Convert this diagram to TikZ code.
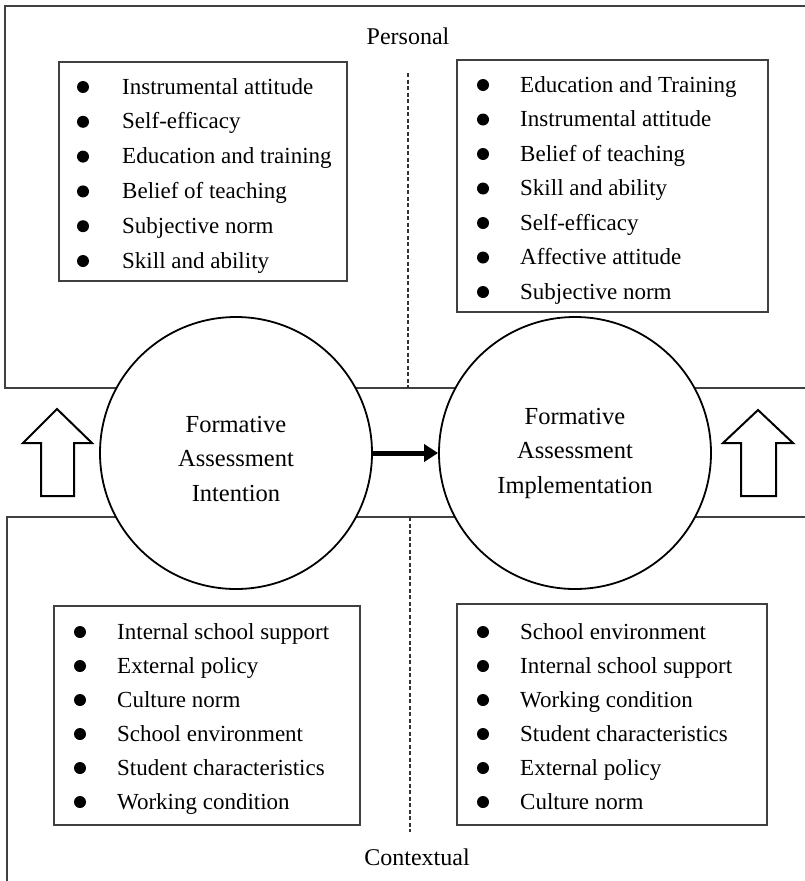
\documentclass[tikz,border=0pt]{standalone}
\usepackage{fontspec}
\setmainfont{Liberation Serif}
\usetikzlibrary{arrows.meta}
\begin{document}
\begin{tikzpicture}[x=1pt,y=-1pt,
  frame/.style={draw=black!75,line width=1.1pt},
  listbox/.style={draw=black!75,line width=1.4pt},
  bul/.style={circle,fill=black,inner sep=0pt,minimum size=12pt},
  item/.style={anchor=west,inner sep=0pt,text height=17pt,text depth=3pt,font=\fontsize{23}{27}\selectfont},
  bigcirc/.style={circle,draw=black,line width=1.8pt,fill=white,minimum size=272pt,inner sep=0pt},
  circtext/.style={align=center,font=\fontsize{24.5}{34.5}\selectfont},
  upar/.style={draw=black,line width=2pt,fill=white,line join=miter},
  sep/.style={draw=black!80,line width=1.3pt,dash pattern=on 4pt off 2.5pt},
  label/.style={font=\fontsize{24}{28}\selectfont}]
\useasboundingbox (0,0) rectangle (805,881);
\fill[white] (0,0) rectangle (805,881);
% frames
\draw[frame] (815,6) -- (5,6) -- (5,388) -- (815,388);
\draw[frame] (815,517) -- (7,517) -- (7,890);
% dashed separators
\coordinate (d1a) at (408,73); \coordinate (d1b) at (408,388);
\coordinate (d2a) at (410,517); \coordinate (d2b) at (410,832);
\draw[sep] (d1a) -- (d1b);
\draw[sep] (d2a) -- (d2b);
% labels
\node[label] (personal) at (408,36) {Personal};
\node[label] (contextual) at (417,857) {Contextual};
% boxes
\draw[listbox] (59,62) rectangle (347,281);
\draw[listbox] (457,60) rectangle (768,312);
\draw[listbox] (54,606) rectangle (360,825);
\draw[listbox] (457,604) rectangle (767,825);
% TL list
\foreach \t [count=\i from 0] in {Instrumental attitude,Self-efficacy,Education and training,Belief of teaching,Subjective norm,Skill and ability}{
  \node[bul] (tlb\i) at (83,87+34.8*\i) {};
  \node[item] (tlt\i) at (122,87+34.8*\i) {\t};
}
% TR list
\foreach \t [count=\i from 0] in {Education and Training,Instrumental attitude,Belief of teaching,Skill and ability,Self-efficacy,Affective attitude,Subjective norm}{
  \node[bul] (trb\i) at (483,85+34.5*\i) {};
  \node[item] (trt\i) at (520,85+34.5*\i) {\t};
}
% BL list
\foreach \t [count=\i from 0] in {Internal school support,External policy,Culture norm,School environment,Student characteristics,Working condition}{
  \node[bul] (blb\i) at (80,632+34*\i) {};
  \node[item] (blt\i) at (117,632+34*\i) {\t};
}
% BR list
\foreach \t [count=\i from 0] in {School environment,Internal school support,Working condition,Student characteristics,External policy,Culture norm}{
  \node[bul] (brb\i) at (483,632+34*\i) {};
  \node[item] (brt\i) at (520,632+34*\i) {\t};
}
% circles
\node[bigcirc] (intent) at (236,453) {};
\node[bigcirc] (impl) at (575,453) {};
\node[circtext] at (236,459) {Formative\\Assessment\\Intention};
\node[circtext] at (575,453) {Formative\\Assessment\\Implementation};
\draw[line width=5pt,-{Triangle[length=14pt,width=17pt]}] (intent.east) -- (impl.west);
% up arrows
\draw[upar] (57,409) -- (92,443) -- (74,443) -- (74,496) -- (41,496) -- (41,443) -- (23,443) -- cycle;
\draw[upar] (758,410) -- (793,443) -- (776,443) -- (776,496) -- (741,496) -- (741,443) -- (723,443) -- cycle;
\end{tikzpicture}
\end{document}
